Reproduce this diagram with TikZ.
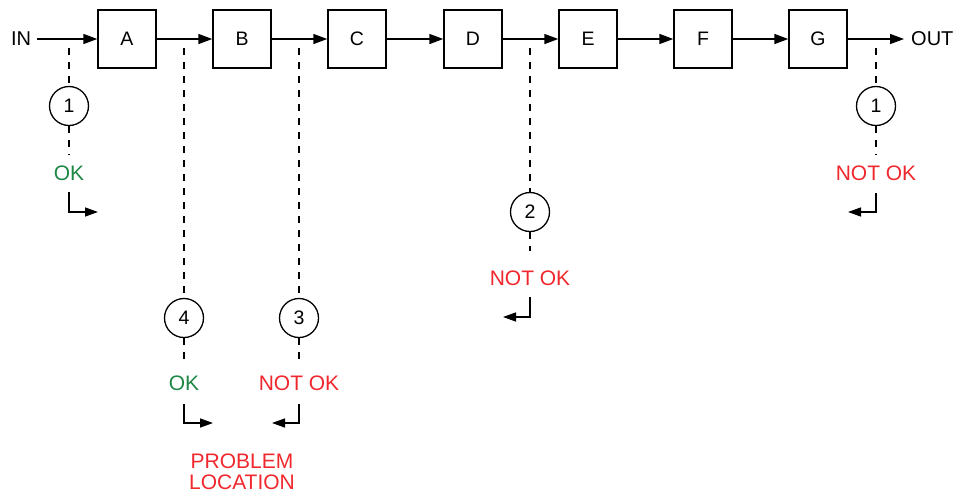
\documentclass[tikz,border=0pt]{standalone}
\usepackage{fontspec}
\setmainfont{Liberation Sans}
\usetikzlibrary{arrows.meta}
\definecolor{okgreen}{RGB}{30,135,70}
\definecolor{badred}{RGB}{240,40,45}
\begin{document}
\begin{tikzpicture}[x=1pt,y=-1pt,
  blk/.style={draw,line width=1.4pt,minimum size=58pt,inner sep=0pt,font=\fontsize{19.5}{22}\selectfont},
  lbl/.style={inner sep=0pt,font=\fontsize{20}{22}\selectfont},
  num/.style={draw,circle,line width=1.3pt,minimum size=39pt,inner sep=0pt,font=\fontsize{19.5}{22}\selectfont},
  stat/.style={inner sep=0pt,font=\fontsize{21}{22}\selectfont},
  flow/.style={line width=1.4pt,-{Triangle[length=14pt,width=10pt]}},
  turn/.style={line width=1.4pt,-{Triangle[length=13pt,width=9pt]}},
  probe/.style={line width=1.3pt,dash pattern=on 7pt off 7pt}]
\useasboundingbox (0,0) rectangle (960,493);
% main chain
\node[lbl] (in) at (21,39) {IN};
\node[blk] (A) at (127,39) {A};
\node[blk] (B) at (242,39) {B};
\node[blk] (C) at (357,39) {C};
\node[blk] (D) at (473,39) {D};
\node[blk] (E) at (588,39) {E};
\node[blk] (F) at (703,39) {F};
\node[blk] (G) at (818,39) {G};
\coordinate (outend) at (904,39);
\node[lbl,anchor=west] (out) at (911,39) {OUT};
\draw[flow] ([xshift=6pt]in.east) -- (A.west);
\draw[flow] (A.east) -- (B.west);
\draw[flow] (B.east) -- (C.west);
\draw[flow] (C.east) -- (D.west);
\draw[flow] (D.east) -- (E.west);
\draw[flow] (E.east) -- (F.west);
\draw[flow] (F.east) -- (G.west);
\draw[flow] (G.east) -- (outend);
% probe 1 (input)
\coordinate (p1t) at (69,48);
\node[num] (n1) at (69,106) {1};
\coordinate (p1b) at (69,155);
\node[stat,text=okgreen] (s1) at (69,173) {OK};
\coordinate (t1a) at (69,192);
\coordinate (t1b) at (98,212);
\draw[probe] (p1t) -- (n1.north);
\draw[probe] (n1.south) -- (p1b);
\draw[turn] (t1a) |- (t1b);
% probe 4
\coordinate (p4t) at (184,48);
\node[num] (n4) at (184,318) {4};
\coordinate (p4b) at (184,362);
\node[stat,text=okgreen] (s4) at (184,383) {OK};
\coordinate (t4a) at (184,404);
\coordinate (t4b) at (213,423);
\draw[probe] (p4t) -- (n4.north);
\draw[probe] (n4.south) -- (p4b);
\draw[turn] (t4a) |- (t4b);
% probe 3
\coordinate (p3t) at (299,48);
\node[num] (n3) at (299,318) {3};
\coordinate (p3b) at (299,362);
\node[stat,text=badred] (s3) at (299,383) {NOT OK};
\coordinate (t3a) at (299,404);
\coordinate (t3b) at (272,423);
\draw[probe] (p3t) -- (n3.north);
\draw[probe] (n3.south) -- (p3b);
\draw[turn] (t3a) |- (t3b);
% probe 2
\coordinate (p2t) at (530,48);
\node[num] (n2) at (530,212) {2};
\coordinate (p2b) at (530,251);
\node[stat,text=badred] (s2) at (530,278) {NOT OK};
\coordinate (t2a) at (530,297);
\coordinate (t2b) at (503,317);
\draw[probe] (p2t) -- (n2.north);
\draw[probe] (n2.south) -- (p2b);
\draw[turn] (t2a) |- (t2b);
% probe 1 (output)
\coordinate (p5t) at (876,48);
\node[num] (n5) at (876,106) {1};
\coordinate (p5b) at (876,155);
\node[stat,text=badred] (s5) at (876,173) {NOT OK};
\coordinate (t5a) at (876,193);
\coordinate (t5b) at (848,212);
\draw[probe] (p5t) -- (n5.north);
\draw[probe] (n5.south) -- (p5b);
\draw[turn] (t5a) |- (t5b);
% problem location
\node[stat,text=badred,align=center,font=\fontsize{21}{21.5}\selectfont] (loc) at (242,472) {PROBLEM\\LOCATION};
\end{tikzpicture}
\end{document}
